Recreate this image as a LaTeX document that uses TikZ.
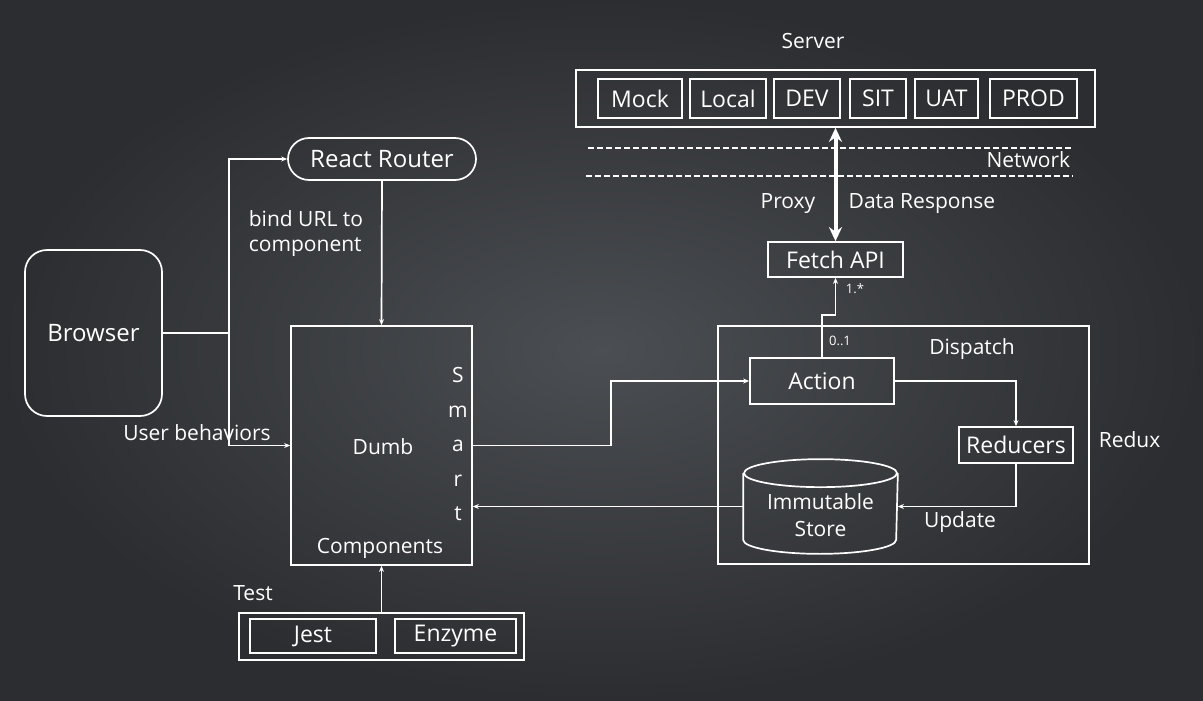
\documentclass[tikz,border=0pt]{standalone}
\usepackage{fontspec}
\setmainfont{Open Sans}
\usetikzlibrary{arrows.meta,positioning}
\definecolor{bginner}{HTML}{4B4E52}
\definecolor{bgouter}{HTML}{2B2D30}

\begin{document}
\begin{tikzpicture}[x=1pt,y=-1pt,color=white,line width=1.7pt,
	                    >={Stealth[length=6pt,width=5pt]}]
	  \tikzstyle{every node}=[text=white,inner sep=0pt,font=\fontsize{21}{25}\selectfont]
	  \tikzstyle{box}=[draw=white,line width=1.7pt,font=\fontsize{23}{27}\selectfont]
	  \tikzstyle{small}=[font=\fontsize{13}{15}\selectfont]

	  % background
	  \shade[inner color=bginner,outer color=bgouter] (0,0) rectangle (1203,701);
	  \useasboundingbox (0,0) rectangle (1203,701);

	  % server
	  \node 			(servertitle) at (813,41) 	{Server};
	  \node[box, minimum width=519, minimum height=57] (server) at (835.5,98.5) {};
	  \node[box, minimum width=84, minimum height=39] (mock)  at (640,98.5)    {Mock};
	  \node[box, minimum width=76, minimum height=39] (local) at (728,98.5)    {Local};
	  \node[box, minimum width=66, minimum height=39] (dev)   at (807,98.5)    {DEV};
	  \node[box, minimum width=56, minimum height=39] (sit)   at (878,98.5)    {SIT};
	  \node[box, minimum width=63, minimum height=39] (uat)   at (946.5,98.5)  {UAT};
	  \node[box, minimum width=87, minimum height=39] (prod)  at (1033.5,98.5) {PROD};

	  % network
	  \draw[line width=1.5pt, dash pattern=on 6pt off 3pt] (588,148) -- (1073,148);
	  \draw[line width=1.5pt, dash pattern=on 6pt off 3pt] (586,176) -- (1073,176);
	  \node[anchor=east] 	(network) at (1071,160) 	{Network};

	  \node[box, minimum width=135, minimum height=35] (fetch) at (835.5,259.5) {Fetch API};
	  \node 			(proxy) at (788,204) 		{Proxy};
	  \node 			(response) at (922,204) 	{Data Response};

	  % redux
	  \node[box, minimum width=371, minimum height=238] (redux) at (903.5,445) {};
	  \node[anchor=west] 	(reduxtitle) at (1098,440) 	{Redux};
	  \node 			(dispatch) at (972,349) 	{Dispatch};
	  \node[box, minimum width=144, minimum height=46] (action) at (822,381) {Action};
	  \node[box, minimum width=114, minimum height=36] (reducers) at (1016,445) {Reducers};
	  \node[minimum width=153, minimum height=93] (store) at (820.5,506.5) {};
	  \node[align=center, font=\fontsize{21}{27}\selectfont] (storetext) at (820.5,515) {Immutable\\Store};
	  \node 			(update) at (960,522) 		{Update};
	  \node[small] 		(many) at (855,289) 		{1.*};
	  \node[small] 		(one) at (840,341) 		{0..1};

	  \draw ([yshift=-14pt]store.north) ellipse [x radius=76.5, y radius=14];
	  \draw ([yshift=-14pt]store.north west) -- ([yshift=14pt]store.south west)
	  		arc [start angle=180, end angle=0, x radius=76.5, y radius=14]
	  		-- ([yshift=-14pt]store.north east);

	  % components
	  \node[box, minimum width=181, minimum height=239] (dumb) at (381.5,445.5) {};
	  \node 			(dumbtitle) at (383,447) 	{Dumb};
	  \node 			(components) at (380,548) 	{Components};
	  \node[align=center, font=\fontsize{21}{34.5}\selectfont] (smart) at (458,444) {S\\m\\a\\r\\t};

	  \node[box, minimum width=137, minimum height=166, rounded corners=22pt,
	  		font=\fontsize{24}{28}\selectfont] (browser) at (93.5,333) {Browser};
	  \node[box, minimum width=188, minimum height=42, rounded corners=21pt,
	  		font=\fontsize{24}{28}\selectfont] (router) at (382,159) {React Router};
	  \node[align=left, anchor=west] (bind) at (248,234) {bind URL to\\component};
	  \node 			(behaviors) at (197,433) 	{User behaviors};
	  \coordinate[right=66pt of browser.east] (fork);

	  % test
	  \node 			(testtitle) at (253,593) 	{Test};
	  \node[box, minimum width=285, minimum height=47] (test) at (381.5,636.5) {};
	  \node[box, minimum width=126, minimum height=34] (jest) at (313,636) {Jest};
	  \node[box, minimum width=121, minimum height=34] (enzyme) at (455.5,636) {Enzyme};

	  % connectors
	  \draw[<->, line width=4pt, >={Stealth[length=14pt,width=13pt]}] (fetch.north) -- (server.south);
	  \draw[->, line width=1.5pt] (action.north) -- (action.north |- 0,315) -| (fetch.south);
	  \draw[->] (action.east) -| (reducers.north);
	  \draw[->] (reducers.south) |- (store.east);
	  \draw[->] (dumb.east) -| (611,381) -- (action.west);
	  \draw[->] (store.west) -- (dumb.east |- store.west);
	  \draw (browser.east) -- (fork);
	  \draw[->] (fork) |- (router.west);
	  \draw[->] (fork) |- (dumb.west);
	  \draw[->] (router.south) -- (dumb.north);
	  \draw[->, line width=1.5pt] (test.north) -- (dumb.south);
	\end{tikzpicture}
\end{document}
